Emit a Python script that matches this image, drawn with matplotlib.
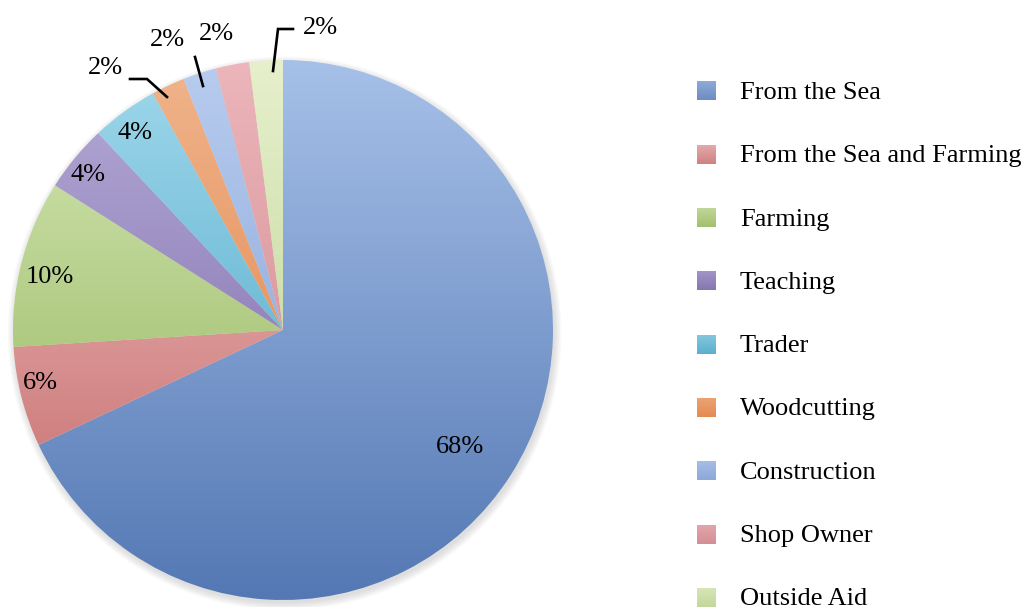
import numpy as np
import matplotlib
matplotlib.use("Agg")
import matplotlib.pyplot as plt
from matplotlib.patches import Circle
from matplotlib.colors import to_rgb

# ---- data ----
categories = ["From the Sea", "From the Sea and Farming", "Farming", "Teaching",
              "Trader", "Woodcutting", "Construction", "Shop Owner", "Outside Aid"]
values = [68, 6, 10, 4, 4, 2, 2, 2, 2]
pct_labels = ["68%", "6%", "10%", "4%", "4%", "2%", "2%", "2%", "2%"]

# ---- styles ----
top_colors = ["#a6c0e8", "#f2c6c6", "#d6e8b8", "#b6abd8", "#a0d8ec",
              "#f0b48c", "#b8ccee", "#ecb6ba", "#e6f0cc"]
bot_colors = ["#5478b4", "#c26464", "#8caf50", "#7260a0", "#3e9ec0",
              "#de7a3a", "#7a9ad2", "#c97e86", "#b4cc86"]
FONT = "Liberation Serif"
FS = 19

W, H = 1025, 607
CX, CY, R = 283, 330, 270  # pixel center / radius of pie

fig = plt.figure(figsize=(W / 100, H / 100), dpi=100)

# background pixel axes for legend
axl = fig.add_axes([0, 0, 1, 1])
axl.set_xlim(0, W)
axl.set_ylim(H, 0)
axl.axis("off")

ax = fig.add_axes([(CX - R) / W, (H - CY - R) / H, 2 * R / W, 2 * R / H])
wedges, _ = ax.pie(values, startangle=90, counterclock=False, radius=1,
                   wedgeprops=dict(linewidth=0))


def grad(c_top, c_bot, n=256):
    t = np.linspace(0, 1, n)[:, None]
    a = np.array(to_rgb(c_top))[None, :]
    b = np.array(to_rgb(c_bot))[None, :]
    return (a * (1 - t) + b * t)[:, None, :]


# soft shadow
for k in range(6):
    ax.add_patch(Circle((0.006, -0.012), 1.0 + 0.005 * k, facecolor="#707070",
                        edgecolor="none", alpha=0.04, zorder=0, clip_on=False))

for w, ct, cb in zip(wedges, top_colors, bot_colors):
    w.set_facecolor("none")
    w.set_edgecolor("none")
    im = ax.imshow(grad(ct, cb), extent=(-1, 1, -1, 1), origin="upper",
                   aspect="auto", interpolation="bilinear", zorder=1)
    im.set_clip_path(w)

ax.set_xlim(-1, 1)
ax.set_ylim(-1, 1)
ax.axis("off")


def px(x, y):
    return (x - CX) / R, (CY - y) / R


# label positions (pixel centers) for the percentage labels
label_px = [(460, 447), (40, 383), (50, 277), (88, 175), (135, 133),
            (105, 68), (167, 40), (216, 34), (320, 28)]
for lab, (x, y) in zip(pct_labels, label_px):
    dx, dy = px(x, y)
    ax.text(dx, dy, lab, ha="center", va="center", fontsize=FS,
            family=FONT, color="black", clip_on=False, zorder=5)

# leader lines
leaders = [
    [(130, 79), (147, 79), (167, 97)],
    [(195, 57), (203, 86)],
    [(293, 29), (278, 29), (273, 71)],
]
for pts in leaders:
    xs, ys = zip(*[px(x, y) for x, y in pts])
    ax.plot(xs, ys, color="black", lw=1.9, clip_on=False, zorder=5,
            solid_joinstyle="miter")

# legend
row0, pitch = 91, 63.3
for i, (lab, ct, cb) in enumerate(zip(categories, top_colors, bot_colors)):
    yc = row0 + i * pitch
    a = np.array(to_rgb(ct)); b = np.array(to_rgb(cb))
    c1 = a * 0.7 + b * 0.3
    c2 = a * 0.3 + b * 0.7
    axl.imshow(grad(c1, c2, 32), extent=(697, 716, yc + 9.5, yc - 9.5),
               aspect="auto", interpolation="bilinear")
    axl.text(740, yc + 8, lab, ha="left", va="baseline", fontsize=FS,
             family=FONT, color="black")

axl.set_xlim(0, W)
axl.set_ylim(H, 0)

fig.savefig("out.png", dpi=100)
